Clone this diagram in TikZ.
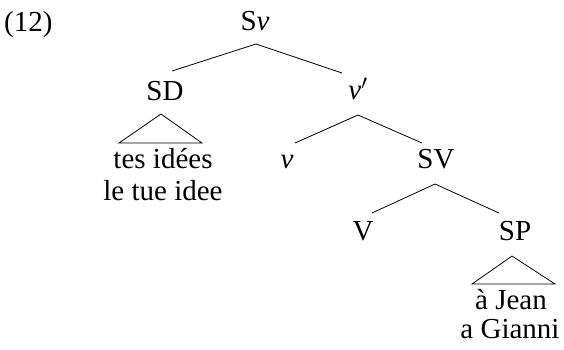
\documentclass[tikz,border=0pt]{standalone}
\usepackage{fontspec}
\setmainfont{Liberation Serif}
\begin{document}
\begin{tikzpicture}[x=1pt,y=-1pt,
  lbl/.style={anchor=base,inner sep=0pt,font=\fontsize{29}{30}\selectfont},
  edge/.style={line width=0.8pt,line join=miter}]
\useasboundingbox (0,0) rectangle (564,349);
% labels
\node[lbl,anchor=base west] (num) at (4,31) {(12)};
\node[lbl] (Sv) at (255,30) {S\textit{v}};
\node[lbl] (SD) at (165,100) {SD};
\node[lbl] (vbar) at (358,99) {\textit{v}$'$};
\node[lbl] (SDa) at (163,168) {tes idées};
\node[lbl] (SDb) at (163,200) {le tue idee};
\node[lbl] (v) at (287,168) {\textit{v}};
\node[lbl] (SV) at (436,168) {SV};
\node[lbl] (V) at (363,240) {V};
\node[lbl] (SP) at (515,240) {SP};
\node[lbl] (SPa) at (511,309) {à Jean};
\node[lbl] (SPb) at (510,338) {a Gianni};
% connector points
\coordinate (Sv-b) at (256,44);
\coordinate (SD-t) at (172,71);
\coordinate (vbar-t) at (342,73);
\coordinate (vbar-b) at (358,115);
\coordinate (v-t) at (295,143);
\coordinate (SV-t) at (422,143);
\coordinate (SV-b) at (435,184);
\coordinate (V-t) at (372,213);
\coordinate (SP-t) at (499,213);
\coordinate (SD-b) at (161,114);
\coordinate (SDa-l) at (119,143);
\coordinate (SDa-r) at (202,143);
\coordinate (SP-b) at (512,256);
\coordinate (SPa-l) at (472,284);
\coordinate (SPa-r) at (555,284);
% branches
\draw[edge] (SD-t) -- (Sv-b) -- (vbar-t);
\draw[edge] (v-t) -- (vbar-b) -- (SV-t);
\draw[edge] (V-t) -- (SV-b) -- (SP-t);
\draw[edge] (SD-b) -- (SDa-l) -- (SDa-r) -- cycle;
\draw[edge] (SP-b) -- (SPa-l) -- (SPa-r) -- cycle;
\end{tikzpicture}
\end{document}
